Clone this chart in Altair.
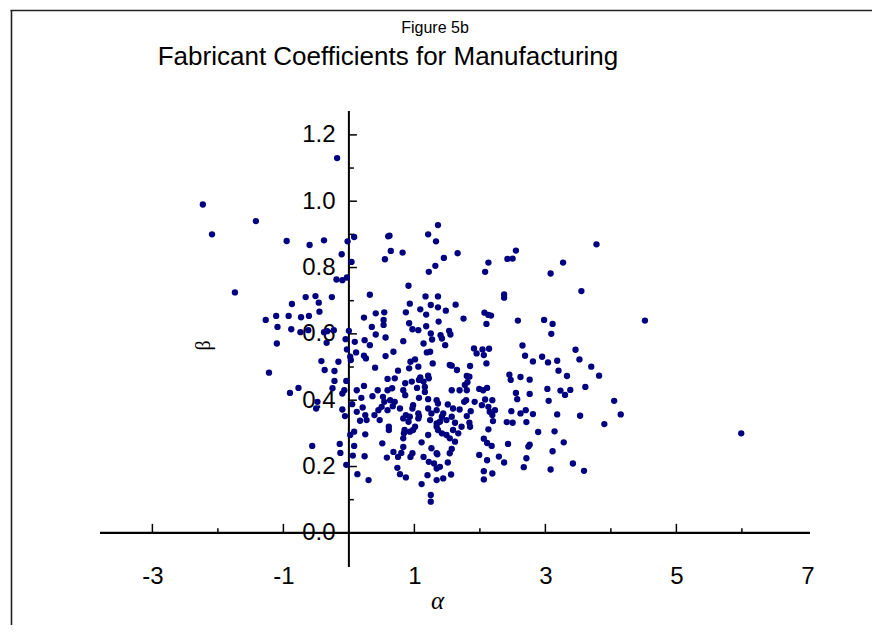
import altair as alt
import pandas as pd

# ---- data (alpha, beta pairs) ----
pts = [
(-2.23,0.99),(-2.09,0.90),(-1.42,0.94),(-1.74,0.725),(-0.18,1.13),
(-0.95,0.88),(-0.60,0.868),(-0.38,0.882),(-0.02,0.879),(0.08,0.892),
(-0.11,0.84),(0.04,0.817),(-0.19,0.764),(-0.10,0.762),(-0.03,0.77),
(0.60,0.894),(0.62,0.896),(0.64,0.85),(0.55,0.825),(0.82,0.845),
(0.91,0.745),(0.32,0.718),(1.21,0.90),(1.36,0.928),(1.33,0.879),
(1.22,0.787),(1.32,0.805),(1.17,0.713),(1.36,0.713),
(-0.66,0.711),(-0.51,0.714),(-0.46,0.694),(-0.87,0.69),(-0.26,0.711),(-0.45,0.667),
(-1.11,0.654),(-0.92,0.654),(-0.73,0.65),(-0.61,0.654),(-1.27,0.642),
(0.23,0.649),(0.41,0.662),(0.54,0.665),(0.53,0.642),(0.87,0.665),(0.93,0.691),
(1.09,0.674),(1.18,0.658),(1.25,0.687),(1.36,0.68),
(-1.09,0.621),(-0.88,0.614),(-0.74,0.605),(-0.62,0.611),(-0.38,0.605),(-0.33,0.608),(-0.23,0.611),
(-1.10,0.571),(-0.34,0.573),(0.00,0.609),(-0.05,0.584),(-0.03,0.553),(0.02,0.531),(0.03,0.521),
(0.09,0.576),(0.11,0.544),(0.35,0.621),(0.24,0.581),(0.32,0.566),(0.41,0.598),
(0.53,0.627),(0.56,0.589),(0.23,0.534),(0.26,0.526),(0.40,0.498),(0.56,0.533),(0.68,0.546),
(0.92,0.632),(0.97,0.614),(1.06,0.611),(0.83,0.578),(1.18,0.623),(1.37,0.637),(1.25,0.601),
(1.14,0.571),(1.19,0.544),(1.24,0.546),(0.94,0.516),(1.01,0.523),(0.92,0.496),(1.06,0.501),(1.28,0.511),
(-0.42,0.518),(-0.16,0.516),(-0.37,0.491),(-0.22,0.488),(-0.22,0.458),(-0.04,0.458),
(-0.25,0.436),(-0.07,0.43),(-0.10,0.42),(-1.22,0.483),(-0.90,0.422),(-0.77,0.437),
(-0.48,0.395),(-0.50,0.375),(-0.10,0.372),(-0.06,0.352),(0.05,0.388),(0.12,0.43),(0.19,0.407),
(0.23,0.443),(0.36,0.412),(0.21,0.378),(0.12,0.365),(0.25,0.355),(0.17,0.338),(0.27,0.34),
(0.39,0.355),(0.45,0.37),(0.44,0.43),(0.59,0.464),(0.70,0.466),(0.75,0.489),
(0.52,0.41),(0.59,0.43),(0.66,0.436),(0.54,0.395),(0.63,0.40),(0.70,0.395),(0.67,0.382),(0.50,0.38),(0.59,0.37),
(0.86,0.451),(0.96,0.456),(1.07,0.461),(1.09,0.469),(1.14,0.456),(1.22,0.466),(1.16,0.44),
(0.83,0.43),(0.86,0.415),(1.07,0.407),(1.21,0.403),(1.34,0.40),
(0.78,0.375),(0.98,0.385),(0.97,0.375),(1.21,0.375),(1.34,0.37),
(0.47,0.34),(0.61,0.32),(0.61,0.31),(0.83,0.345),(0.87,0.355),(0.93,0.35),(1.06,0.36),(1.07,0.352),
(1.01,0.32),(0.93,0.305),(0.84,0.30),(1.21,0.295),(1.34,0.33),
(0.02,0.295),(0.08,0.305),(0.25,0.297),(0.51,0.27),(-0.14,0.268),(-0.56,0.262),(-0.13,0.241),
(0.08,0.262),(0.06,0.233),(0.24,0.231),(0.58,0.227),(-0.04,0.205),(0.13,0.177),(0.30,0.159),
(0.68,0.244),(0.75,0.229),(0.83,0.259),(0.83,0.285),(0.80,0.241),(0.97,0.24),(0.94,0.229),
(1.11,0.273),(1.14,0.229),(1.26,0.255),(1.22,0.214),(1.34,0.24),
(0.74,0.196),(0.78,0.177),(0.87,0.167),(1.11,0.147),(1.20,0.174),(1.34,0.159),(1.25,0.114),(1.25,0.094),
(1.66,0.843),(1.45,0.829),(2.55,0.851),(2.42,0.826),(2.50,0.827),(2.13,0.815),(2.08,0.787),
(3.78,0.87),(3.27,0.815),(3.08,0.782),(3.55,0.729),(2.37,0.719),(2.37,0.709),
(1.48,0.67),(1.63,0.688),(1.75,0.646),(2.07,0.664),(2.13,0.657),(2.17,0.655),(2.10,0.63),
(2.58,0.64),(2.98,0.642),(3.11,0.63),(3.09,0.60),(4.52,0.64),
(1.53,0.609),(1.55,0.598),(1.40,0.596),(1.42,0.586),(1.27,0.583),(1.47,0.566),
(1.91,0.556),(2.04,0.553),(2.14,0.555),(1.95,0.541),(2.06,0.536),(2.10,0.511),
(2.65,0.565),(2.69,0.534),(2.81,0.517),(2.95,0.531),(3.04,0.514),(3.18,0.519),(3.46,0.552),(3.52,0.523),(3.70,0.501),(3.82,0.474),
(1.54,0.506),(1.57,0.504),(1.65,0.491),(1.85,0.503),
(3.20,0.489),(3.33,0.473),(2.45,0.477),(2.47,0.461),(2.62,0.47),(2.76,0.462),
(3.03,0.434),(3.23,0.429),(3.30,0.416),(3.38,0.431),(3.61,0.44),(3.05,0.398),(2.76,0.419),(2.55,0.422),(2.57,0.403),
(4.05,0.398),(4.15,0.357),(3.90,0.328),(5.99,0.30),(3.18,0.357),(3.53,0.353),
(2.70,0.37),(2.81,0.358),(2.62,0.36),(2.48,0.367),(2.71,0.334),(2.41,0.334),(2.50,0.332),
(2.89,0.304),(3.14,0.306),(3.28,0.273),(2.76,0.266),(2.74,0.26),(3.11,0.246),(2.43,0.268),
(2.71,0.225),(2.29,0.23),(2.37,0.212),(2.67,0.198),(3.08,0.191),(3.42,0.209),(3.59,0.187),
(1.99,0.235),(2.11,0.219),(2.06,0.186),(2.19,0.179),(2.06,0.161),
(2.13,0.312),(2.18,0.262),(2.06,0.284),(2.11,0.271),
(1.54,0.24),(1.51,0.212),(1.56,0.176),(1.44,0.164),(1.34,0.194),(1.39,0.199),(1.30,0.209),(1.35,0.237),
(1.62,0.275),(1.57,0.253),
(1.80,0.352),(1.86,0.367),(1.84,0.332),(1.85,0.32),(1.72,0.32),(1.67,0.30),(1.59,0.31),(1.62,0.332),(1.69,0.372),
(1.57,0.35),(1.49,0.34),(1.42,0.35),(1.44,0.36),(1.39,0.335),(1.34,0.32),(1.36,0.31),(1.42,0.30),(1.49,0.295),(1.54,0.285),
(1.24,0.34),(1.26,0.36),(1.06,0.345),(0.91,0.335),(0.85,0.31),(0.98,0.31),
(2.03,0.385),(1.92,0.395),(2.05,0.43),(1.99,0.434),(2.11,0.437),(2.08,0.402),(2.19,0.40),(2.13,0.38),(2.23,0.37),(2.15,0.365),(2.19,0.355),(2.20,0.337),
(1.76,0.395),(1.79,0.40),(1.69,0.43),(1.80,0.43),(1.81,0.454),(1.84,0.471),(1.80,0.473),(1.77,0.446),
(1.57,0.43),(1.51,0.387),(1.59,0.375),(1.36,0.39),
(1.21,0.474),(1.16,0.425),(1.04,0.437),
]
alpha = [p[0] for p in pts]
beta = [p[1] for p in pts]

x_labels = [-3, -1, 1, 3, 5, 7]
x_major = [-3, -1, 1, 3, 5]
x_minor = [-2, 2, 4, 6]
y_labels = [0.0, 0.2, 0.4, 0.6, 0.8, 1.0, 1.2]
y_major = [0.2, 0.4, 0.6, 0.8, 1.0, 1.2]
y_minor = [0.1, 0.3, 0.5, 0.7, 0.9, 1.1]
titles = ["Figure 5b", "Fabricant Coefficients for Manufacturing"]

X_DOM = [-3.8, 7.04]
Y_DOM = [-0.103, 1.272]
FONT = "Liberation Sans"
SERIF = "Liberation Serif"

df = pd.DataFrame({"alpha": alpha, "beta": beta})
xs = alt.Scale(domain=X_DOM, nice=False, zero=False)
ys = alt.Scale(domain=Y_DOM, nice=False, zero=False)
one = pd.DataFrame({"k": [0]})

points = alt.Chart(df).mark_circle(size=40, color="#000080", opacity=1).encode(
    x=alt.X("alpha:Q", scale=xs, axis=alt.Axis(
        values=x_labels, labelExpr="'' + datum.value",
        domain=False, ticks=False, tickSize=0, grid=False,
        labelFont=FONT, labelFontSize=24, labelColor="black",
        labelBaseline="middle", labelPadding=9,
        title="α", titleFont=SERIF, titleFontStyle="italic", titleFontSize=25,
        titleFontWeight="normal", titleColor="black",
        titleX=337, titleY=33, titleBaseline="middle", titleAlign="center")),
    y=alt.Y("beta:Q", scale=ys, axis=alt.Axis(
        values=y_labels, format=".1f", domain=False, ticks=False, tickSize=0, grid=False,
        labelFont=FONT, labelFontSize=24, labelColor="black", labelPadding=14,
        offset=-249,
        title="β", titleFont=SERIF, titleFontSize=20, titleFontWeight="normal",
        titleColor="black", titleAngle=270, titleX=-146, titleY=234,
        titleBaseline="middle", titleAlign="center")),
)

x_axis_line = alt.Chart(one).mark_rule(color="black", strokeWidth=2.2).encode(y=alt.datum(0))
y_axis_line = alt.Chart(one).mark_rule(color="black", strokeWidth=2).encode(x=alt.datum(0))

xmaj = alt.Chart(pd.DataFrame({"v": x_major})).mark_rule(color="black", strokeWidth=1.5, y2Offset=-9).encode(
    x=alt.X("v:Q", scale=xs), y=alt.datum(0), y2=alt.datum(0))
xmin = alt.Chart(pd.DataFrame({"v": x_minor})).mark_rule(color="black", strokeWidth=1.5, y2Offset=-4.5).encode(
    x=alt.X("v:Q", scale=xs), y=alt.datum(0), y2=alt.datum(0))
ymaj = alt.Chart(pd.DataFrame({"v": y_major})).mark_rule(color="black", strokeWidth=1.5, x2Offset=8).encode(
    y=alt.Y("v:Q", scale=ys), x=alt.datum(0), x2=alt.datum(0))
ymin = alt.Chart(pd.DataFrame({"v": y_minor})).mark_rule(color="black", strokeWidth=1.5, x2Offset=5).encode(
    y=alt.Y("v:Q", scale=ys), x=alt.datum(0), x2=alt.datum(0))

fig_label = alt.Chart(pd.DataFrame({"t": [titles[0]]})).mark_text(
    font=FONT, fontSize=16, color="black", align="center", baseline="middle").encode(
    text="t:N", x=alt.value(335), y=alt.value(-83))
main_title = alt.Chart(pd.DataFrame({"t": [titles[1]]})).mark_text(
    font=FONT, fontSize=26, color="black", align="center", baseline="middle").encode(
    text="t:N", x=alt.value(288), y=alt.value(-54))

# chart-area frame: only its top and left edges fall inside the window
frame_top = alt.Chart(one).mark_rule(color="#222222", strokeWidth=1.6).encode(
    x=alt.value(-89.5), x2=alt.value(800), y=alt.value(-100.5))
frame_left = alt.Chart(one).mark_rule(color="#222222", strokeWidth=1.6).encode(
    x=alt.value(-88.5), y=alt.value(-101), y2=alt.value(600))

chart = alt.layer(
    frame_top, frame_left, x_axis_line, y_axis_line, xmaj, xmin, ymaj, ymin,
    points, fig_label, main_title
).properties(
    width=710, height=456,
    autosize=alt.AutoSizeParams(type="none"),
    padding={"left": 92, "top": 103, "right": 62, "bottom": 58},
).configure_view(stroke=None).configure_axis(grid=False)

chart.save("out.html", embed_options={"renderer": "svg", "actions": False})
